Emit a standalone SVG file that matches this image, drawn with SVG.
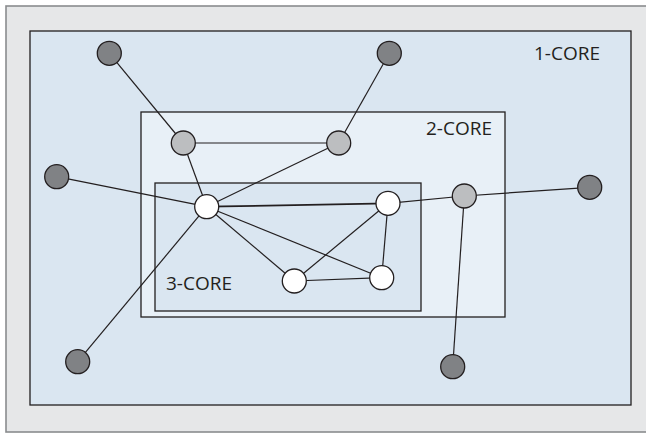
<svg xmlns="http://www.w3.org/2000/svg" width="646" height="433" viewBox="0 0 646 433">
  <style>
    .frame { fill: #e6e7e8; stroke: #8a8c8e; stroke-width: 1.6; }
    .core1 { fill: #dae6f1; stroke: #231f20; stroke-width: 1.3; }
    .core2 { fill: #e8f0f7; stroke: #231f20; stroke-width: 1.3; }
    .core3 { fill: #dae6f1; stroke: #231f20; stroke-width: 1.3; }
    .label { font-family: "Open Sans", "Liberation Sans", sans-serif; font-size: 19px; fill: #231f20; }
    .edge { stroke: #231f20; stroke-width: 1.2; fill: none; }
    .node { stroke: #231f20; stroke-width: 1.3; }
    .outer { fill: #808285; }
    .mid { fill: #bcbec0; }
    .inner { fill: #ffffff; }
  </style>

  <!-- background frame and nested core regions -->
  <rect class="frame" x="6" y="6" width="650" height="426"/>
  <g id="core-1">
    <rect class="core1" x="30" y="31" width="601" height="374"/>
    <text class="label" x="534" y="60">1-CORE</text>
  </g>
  <g id="core-2">
    <rect class="core2" x="141" y="112" width="364" height="205"/>
    <text class="label" x="426" y="135">2-CORE</text>
  </g>
  <g id="core-3">
    <rect class="core3" x="155" y="183" width="266" height="128"/>
    <text class="label" x="166" y="290">3-CORE</text>
  </g>

  <!-- connectors -->
  <g id="edges">
    <line class="edge" x1="109.3" y1="53.3" x2="183.3" y2="143"/>
    <line class="edge" x1="389.3" y1="53.3" x2="338.7" y2="143"/>
    <line class="edge" x1="183.3" y1="143" x2="338.7" y2="143"/>
    <line class="edge" x1="183.3" y1="143" x2="206.7" y2="206.7"/>
    <line class="edge" x1="338.7" y1="143" x2="206.7" y2="206.7"/>
    <line class="edge" x1="56.7" y1="176.7" x2="206.7" y2="206.7"/>
    <line class="edge" x1="77.7" y1="361.7" x2="206.7" y2="206.7"/>
    <line class="edge" x1="206.7" y1="206.7" x2="388" y2="203.3" style="stroke-width:1.8"/>
    <line class="edge" x1="206.7" y1="206.7" x2="294.3" y2="281"/>
    <line class="edge" x1="206.7" y1="206.7" x2="381.7" y2="277.7"/>
    <line class="edge" x1="388" y1="203.3" x2="294.3" y2="281"/>
    <line class="edge" x1="388" y1="203.3" x2="381.7" y2="277.7"/>
    <line class="edge" x1="294.3" y1="281" x2="381.7" y2="277.7"/>
    <line class="edge" x1="388" y1="203.3" x2="464.3" y2="196"/>
    <line class="edge" x1="464.3" y1="196" x2="589.7" y2="187.3"/>
    <line class="edge" x1="464.3" y1="196" x2="452.7" y2="366.7"/>
  </g>

  <!-- 1-core nodes -->
  <g id="n-top-left"><circle class="node outer" cx="109.3" cy="53.3" r="12"/></g>
  <g id="n-top-right"><circle class="node outer" cx="389.3" cy="53.3" r="12"/></g>
  <g id="n-left"><circle class="node outer" cx="56.7" cy="176.7" r="12"/></g>
  <g id="n-right"><circle class="node outer" cx="589.7" cy="187.3" r="12"/></g>
  <g id="n-bottom-left"><circle class="node outer" cx="77.7" cy="361.7" r="12"/></g>
  <g id="n-bottom-right"><circle class="node outer" cx="452.7" cy="366.7" r="12"/></g>

  <!-- 2-core nodes -->
  <g id="n-mid-a"><circle class="node mid" cx="183.3" cy="143" r="12"/></g>
  <g id="n-mid-b"><circle class="node mid" cx="338.7" cy="143" r="12"/></g>
  <g id="n-mid-c"><circle class="node mid" cx="464.3" cy="196" r="12"/></g>

  <!-- 3-core nodes -->
  <g id="n-hub"><circle class="node inner" cx="206.7" cy="206.7" r="12"/></g>
  <g id="n-inner-d"><circle class="node inner" cx="388" cy="203.3" r="12"/></g>
  <g id="n-inner-e"><circle class="node inner" cx="294.3" cy="281" r="12"/></g>
  <g id="n-inner-f"><circle class="node inner" cx="381.7" cy="277.7" r="12"/></g>
</svg>
